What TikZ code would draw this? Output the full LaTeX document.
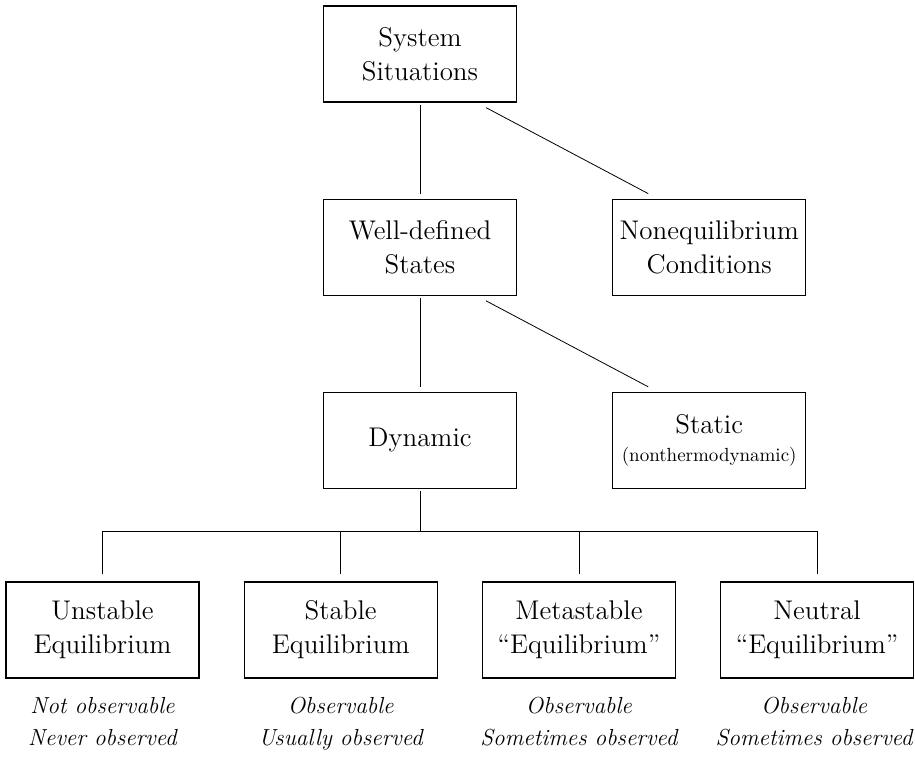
\documentclass[tikz,border=0pt]{standalone}
\usetikzlibrary{positioning, calc}

\begin{document}
\begin{tikzpicture}[
            box/.style={draw, semithick, minimum width=96.5pt, minimum height=48pt, align=center, inner sep=2pt, font=\fontsize{13.5}{17}\selectfont},
            note/.style={align=center, inner sep=0pt, font=\fontsize{11.6}{16}\selectfont\itshape},
            link/.style={thin}
        ]
            \useasboundingbox (0,0) rectangle (457.5pt,-378pt);
            \node[box] (sys) at (210pt,-27pt) {System\\Situations};
            \node[box, below=48pt of sys] (welldef) {Well-defined\\States};
            \node[box, right=47.5pt of welldef] (noneq) {Nonequilibrium\\Conditions};
            \node[box, below=48pt of welldef] (dyn) {Dynamic};
            \node[box, right=47.5pt of dyn] (static) {Static\\[-3pt]{\fontsize{9.5}{11}\selectfont(nonthermodynamic)}};
            \node[box] (unstable) at (51.25pt,-315pt) {Unstable\\Equilibrium};
            \node[box, right=22pt of unstable] (stable) {Stable\\Equilibrium};
            \node[box, right=22pt of stable] (meta) {Metastable\\``Equilibrium''};
            \node[box, right=22pt of meta] (neutral) {Neutral\\``Equilibrium''};
            % observations
            \node[note, anchor=north] (obs1) at ([yshift=-9.3pt]unstable.south) {Not observable\\Never observed};
            \node[note, anchor=north] (obs2) at ([yshift=-9.3pt]stable.south) {Observable\\Usually observed};
            \node[note, anchor=north] (obs3) at ([yshift=-9.3pt]meta.south) {Observable\\Sometimes observed};
            \node[note, anchor=north] (obs4) at ([shift={(-1.5pt,-9.3pt)}]neutral.south) {Observable\\Sometimes observed};
            % tree lines
            \draw[link] ([yshift=-1pt]sys.south) -- ([yshift=2.5pt]welldef.north);
            \draw[link] ([shift={(33pt,-2.5pt)}]sys.south) -- ([shift={(-30.5pt,2.5pt)}]noneq.north);
            \draw[link] ([yshift=-1pt]welldef.south) -- ([yshift=2.5pt]dyn.north);
            \draw[link] ([shift={(33pt,-2.5pt)}]welldef.south) -- ([shift={(-30.5pt,2.5pt)}]static.north);
            \coordinate[below=21pt of dyn.south] (bus);
            \draw[link] ([yshift=-1pt]dyn.south) -- (bus);
            \draw[link] ([yshift=3.5pt]unstable.north) -- (unstable.north |- bus) -- (neutral.north |- bus) -- ([yshift=3.5pt]neutral.north);
            \foreach \n in {stable, meta}
                \draw[link] (\n.north |- bus) -- ([yshift=3.5pt]\n.north);
        \end{tikzpicture}
\end{document}
